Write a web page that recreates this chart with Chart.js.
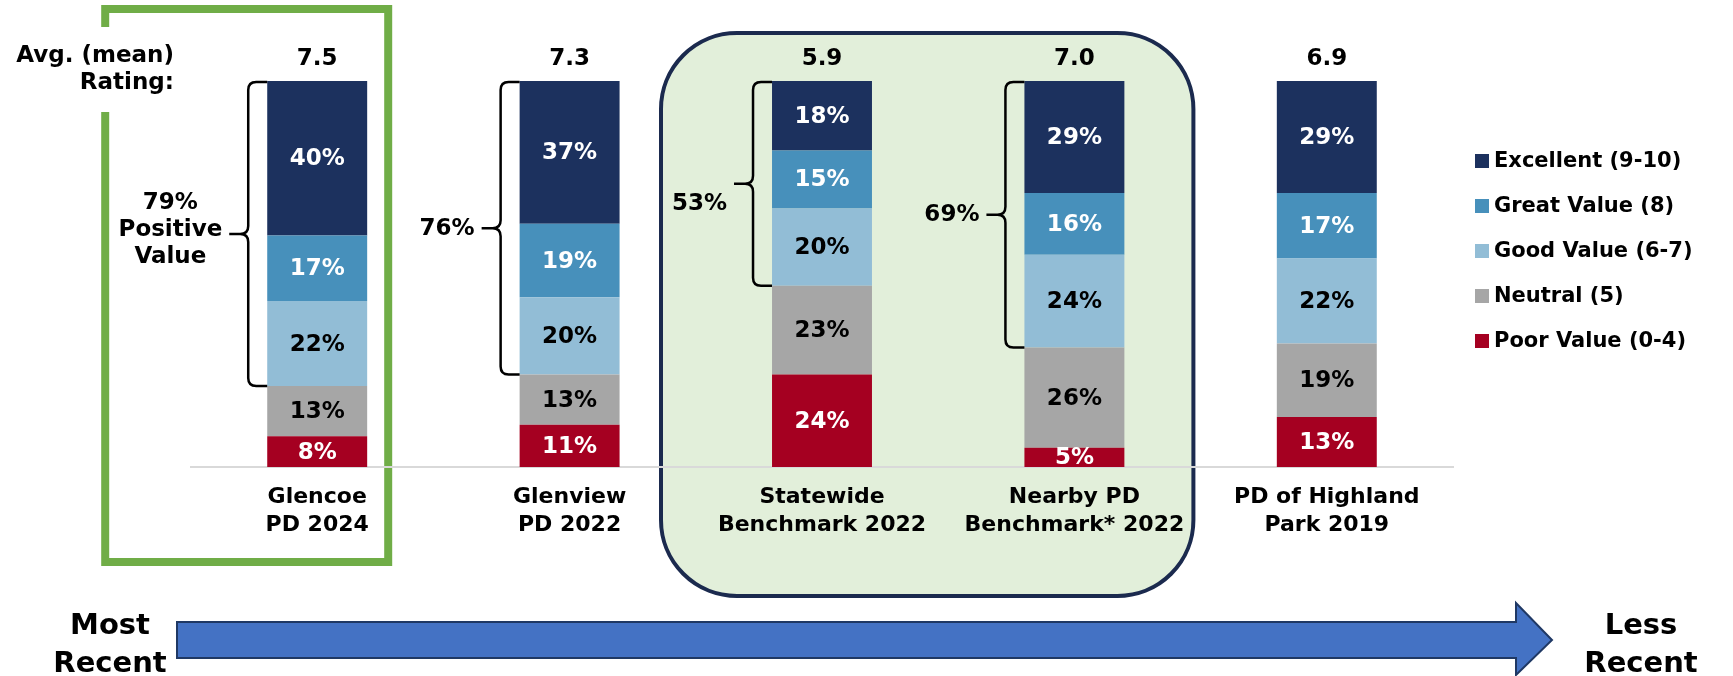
<!DOCTYPE html>
<html>
<head>
<meta charset="utf-8">
<title>Value rating comparison</title>
<script src="https://cdn.jsdelivr.net/npm/chart.js@4.4.0/dist/chart.umd.min.js"></script>
<style>
  html, body { margin: 0; padding: 0; background: #fff; }
  #wrap { position: relative; width: 1733px; height: 676px; }
</style>
</head>
<body>
<div id="wrap"><canvas id="myChart"></canvas></div>
<script>
// category labels (two lines each)
const categories = [
    ['Glencoe', 'PD 2024'],
    ['Glenview', 'PD 2022'],
    ['Statewide', 'Benchmark 2022'],
    ['Nearby PD', 'Benchmark* 2022'],
    ['PD of Highland', 'Park 2019']
];
const meanRatings = [7.5, 7.3, 5.9, 7.0, 6.9];

// shares in %, bottom of the stack first
const poorValue = [8, 11, 24, 5, 13];
const neutral = [13, 13, 23, 26, 19];
const goodValue = [22, 20, 20, 24, 22];
const greatValue = [17, 19, 15, 16, 17];
const excellent = [40, 37, 18, 29, 29];

// extra words under the "positive" bracket total, null = no bracket
const positiveNotes = [['Positive', 'Value'], [], [], [], null];

const FONT = 'DejaVu Sans';
Chart.defaults.font.family = FONT;

const datasets = [
    { label: 'Poor Value (0-4)', data: poorValue, backgroundColor: '#A50021', labelColor: '#fff' },
    { label: 'Neutral (5)', data: neutral, backgroundColor: '#A6A6A6', labelColor: '#000' },
    { label: 'Good Value (6-7)', data: goodValue, backgroundColor: '#92BDD6', labelColor: '#000' },
    { label: 'Great Value (8)', data: greatValue, backgroundColor: '#4790BB', labelColor: '#fff' },
    { label: 'Excellent (9-10)', data: excellent, backgroundColor: '#1C315E', labelColor: '#fff' }
].map(ds => Object.assign(ds, { barPercentage: 0.396, categoryPercentage: 1, borderWidth: 0 }));

function roundRectPath(ctx, x, y, w, h, r) {
    ctx.beginPath();
    ctx.moveTo(x + r, y);
    ctx.lineTo(x + w - r, y);
    ctx.arcTo(x + w, y, x + w, y + r, r);
    ctx.lineTo(x + w, y + h - r);
    ctx.arcTo(x + w, y + h, x + w - r, y + h, r);
    ctx.lineTo(x + r, y + h);
    ctx.arcTo(x, y + h, x, y + h - r, r);
    ctx.lineTo(x, y + r);
    ctx.arcTo(x, y, x + r, y, r);
    ctx.closePath();
}

function drawBrace(ctx, xEnd, xSpine, xPoint, yTop, yBot) {
    const yMid = (yTop + yBot) / 2;
    const r = 8;
    ctx.beginPath();
    ctx.moveTo(xEnd, yTop);
    ctx.lineTo(xSpine + r, yTop);
    ctx.quadraticCurveTo(xSpine, yTop, xSpine, yTop + r);
    ctx.lineTo(xSpine, yMid - r);
    ctx.quadraticCurveTo(xSpine, yMid, xSpine - r, yMid);
    ctx.lineTo(xPoint, yMid);
    ctx.moveTo(xSpine - r, yMid);
    ctx.quadraticCurveTo(xSpine, yMid, xSpine, yMid + r);
    ctx.lineTo(xSpine, yBot - r);
    ctx.quadraticCurveTo(xSpine, yBot, xSpine + r, yBot);
    ctx.lineTo(xEnd, yBot);
    ctx.stroke();
}

const decorations = {
    id: 'decorations',
    beforeDraw(chart) {
        const { ctx, scales: { x } } = chart;
        const c0 = x.getPixelForValue(0);
        const c2 = x.getPixelForValue(2);
        const c3 = x.getPixelForValue(3);
        ctx.save();
        // benchmark group panel
        const left = c2 - 161, right = c3 + 119;
        roundRectPath(ctx, left, 33, right - left, 563, 76);
        ctx.fillStyle = '#E2EFDA';
        ctx.fill();
        ctx.lineWidth = 4;
        ctx.strokeStyle = '#1B2A4E';
        ctx.stroke();
        // current survey frame
        ctx.lineWidth = 8;
        ctx.strokeStyle = '#70AD47';
        ctx.strokeRect(c0 - 212, 9, 283, 553);
        ctx.restore();
    },
    afterDatasetsDraw(chart, args, opts) {
        const { ctx, chartArea, scales: { y } } = chart;
        ctx.save();

        // values inside the segments
        ctx.beginPath();
        ctx.rect(chartArea.left, chartArea.top, chartArea.width, chartArea.height);
        ctx.clip();
        ctx.font = `bold 23px ${FONT}`;
        ctx.textAlign = 'center';
        ctx.textBaseline = 'middle';
        chart.data.datasets.forEach((ds, i) => {
            chart.getDatasetMeta(i).data.forEach((bar, j) => {
                ctx.fillStyle = ds.labelColor;
                ctx.fillText(ds.data[j] + '%', bar.x, (bar.y + bar.base) / 2 + 1);
            });
        });
        ctx.restore();

        ctx.save();
        ctx.fillStyle = '#000';
        ctx.strokeStyle = '#000';
        ctx.lineWidth = 2.5;
        ctx.font = `bold 23px ${FONT}`;
        ctx.textBaseline = 'middle';
        const topMeta = chart.getDatasetMeta(chart.data.datasets.length - 1);
        topMeta.data.forEach((bar, j) => {
            // mean rating above the bar
            ctx.textAlign = 'center';
            ctx.fillText(meanRatings[j].toFixed(1), bar.x, bar.y - 22);

            // positive value bracket
            if (positiveNotes[j] === null) return;
            const positive = goodValue[j] + greatValue[j] + excellent[j];
            const total = positive + neutral[j] + poorValue[j];
            const yTop = y.getPixelForValue(total);
            const yBot = y.getPixelForValue(total - positive);
            const left = bar.x - bar.width / 2;
            const spine = left - 19;
            const point = spine - 19;
            drawBrace(ctx, left, spine, point, yTop + 1, yBot);

            const lines = [positive + '%'].concat(positiveNotes[j]);
            const maxW = Math.max(...lines.map(t => ctx.measureText(t).width));
            const cx = point - 7 - maxW / 2;
            const yMid = (yTop + yBot) / 2 + (opts.noteShift[j] || 0);
            const lh = 27;
            lines.forEach((t, k) => {
                ctx.fillText(t, cx, yMid + (k - (lines.length - 1) / 2) * lh + 1);
            });
        });
        ctx.restore();
    },
    afterDraw(chart) {
        const { ctx } = chart;
        ctx.save();

        // "Avg. (mean) Rating:" caption on white
        ctx.fillStyle = '#fff';
        ctx.fillRect(4, 27, 174, 85);
        ctx.fillStyle = '#000';
        ctx.font = `bold 23px ${FONT}`;
        ctx.textAlign = 'right';
        ctx.textBaseline = 'middle';
        ctx.fillText('Avg. (mean)', 174, 56);
        ctx.fillText('Rating:', 174, 83);

        // legend, top item first
        ctx.textAlign = 'left';
        ctx.font = `bold 21px ${FONT}`;
        chart.data.datasets.slice().reverse().forEach((ds, k) => {
            const cy = 161 + k * 45;
            ctx.fillStyle = ds.backgroundColor;
            ctx.fillRect(1475, cy - 7, 14, 14);
            ctx.fillStyle = '#000';
            ctx.fillText(ds.label, 1494, cy + 1);
        });

        // time arrow
        ctx.beginPath();
        ctx.moveTo(177, 622);
        ctx.lineTo(1516, 622);
        ctx.lineTo(1516, 603);
        ctx.lineTo(1552, 640);
        ctx.lineTo(1516, 675);
        ctx.lineTo(1516, 658);
        ctx.lineTo(177, 658);
        ctx.closePath();
        ctx.fillStyle = '#4472C4';
        ctx.fill();
        ctx.lineWidth = 2;
        ctx.strokeStyle = '#1F3864';
        ctx.stroke();

        ctx.fillStyle = '#000';
        ctx.font = `bold 29px ${FONT}`;
        ctx.textAlign = 'center';
        ctx.fillText('Most', 110, 626);
        ctx.fillText('Recent', 110, 664);
        ctx.fillText('Less', 1641, 626);
        ctx.fillText('Recent', 1641, 664);
        ctx.restore();
    }
};

const ctx = document.getElementById('myChart').getContext('2d');
new Chart(ctx, {
    type: 'bar',
    data: { labels: categories, datasets: datasets },
    options: {
        responsive: true,
        maintainAspectRatio: false,
        animation: false,
        layout: { padding: { left: 191, right: 280, top: 81, bottom: 129 } },
        plugins: {
            legend: { display: false },
            tooltip: { enabled: false },
            decorations: { noteShift: [-4, 0, 20, 0, 0] }
        },
        scales: {
            x: {
                stacked: true,
                grid: { display: false },
                border: { display: true, color: '#D9D9D9', width: 2 },
                ticks: {
                    color: '#000',
                    padding: 8,
                    maxRotation: 0,
                    autoSkip: false,
                    font: { size: 22, weight: 'bold', lineHeight: 1.27 }
                }
            },
            y: { stacked: true, display: false, min: 0, max: 100 }
        }
    },
    plugins: [decorations]
});
</script>
</body>
</html>
